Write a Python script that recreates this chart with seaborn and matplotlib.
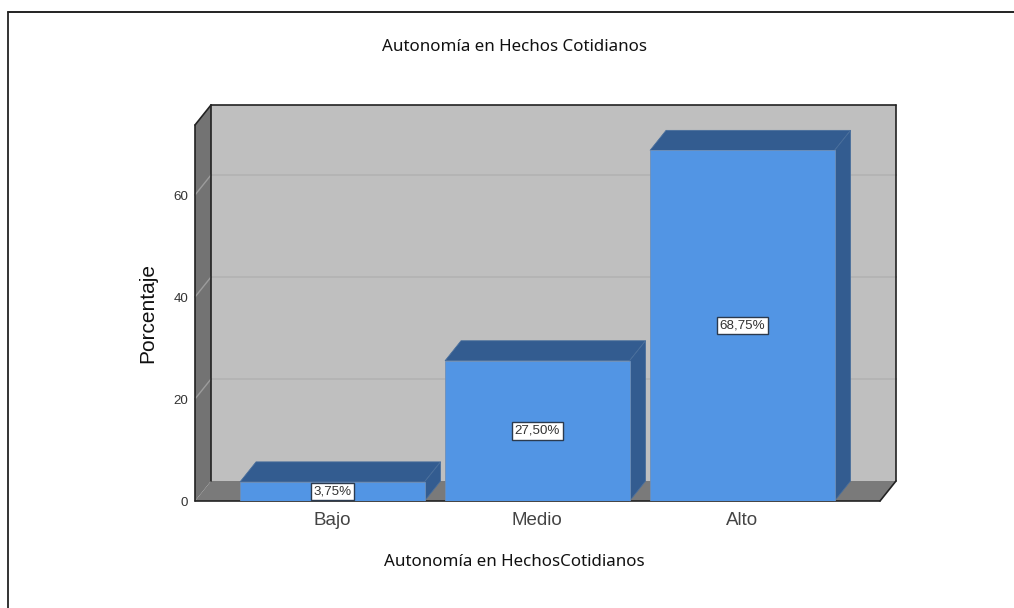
"""
Bar chart with the fake 3D look of the original statistics package output.
"""

import matplotlib
matplotlib.use("Agg")
import matplotlib.pyplot as plt
from matplotlib.lines import Line2D
from matplotlib.patches import Polygon
import pandas as pd
import seaborn as sns

# Data
categories = ["Bajo", "Medio", "Alto"]
percentages = [3.75, 27.50, 68.75]
y_ticks = [0, 20, 40, 60]

TITLE = "Autonomía en Hechos Cotidianos"
X_LABEL = "Autonomía en HechosCotidianos"
Y_LABEL = "Porcentaje"

# Colours
BAR_FRONT = "#5295E4"
BAR_DARK = "#335C90"
BACK_WALL = "#BFBFBF"
SIDE_WALL = "#737373"
FLOOR = "#7A7A7A"
GRID_BACK = "#B2B2B2"
GRID_SIDE = "#9C9C9C"
TEXT_GREY = "#333333"

# Pixel layout of the front plane
W, H = 1014, 608
LEFT, RIGHT, BOTTOM, TOP = 195, 880, 501, 125
DEPTH_X_PX, DEPTH_Y_PX = 16, 20
PX_PER_CAT = 205
PX_PER_UNIT = 5.1


def add_face(ax, points, color, zorder, edge=None, lw=0.0):
    ax.add_patch(Polygon(points, closed=True, facecolor=color, edgecolor=edge or color,
                         linewidth=lw, zorder=zorder, clip_on=False))


def draw_box(ax, dx, dy):
    """Back wall, side wall, floor and their grid lines."""
    x0, x1 = ax.get_xlim()
    y0, y1 = ax.get_ylim()
    add_face(ax, [(x0 + dx, y0 + dy), (x1 + dx, y0 + dy), (x1 + dx, y1 + dy), (x0 + dx, y1 + dy)], BACK_WALL, 0.5)
    add_face(ax, [(x0, y0), (x0 + dx, y0 + dy), (x0 + dx, y1 + dy), (x0, y1)], SIDE_WALL, 0.6)
    add_face(ax, [(x0, y0), (x1, y0), (x1 + dx, y0 + dy), (x0 + dx, y0 + dy)], FLOOR, 0.6)

    for t in y_ticks[1:]:
        ax.plot([x0 + dx, x1 + dx], [t + dy, t + dy], color=GRID_BACK, lw=1.2, zorder=0.7, clip_on=False)
        ax.plot([x0, x0 + dx], [t, t + dy], color=GRID_SIDE, lw=1.0, zorder=0.7, clip_on=False)

    # dark outline of the box
    outline = [
        ([x0, x0], [y0, y1]),
        ([x0, x0 + dx], [y1, y1 + dy]),
        ([x0 + dx, x1 + dx], [y1 + dy, y1 + dy]),
        ([x1 + dx, x1 + dx], [y1 + dy, y0 + dy]),
        ([x1 + dx, x1], [y0 + dy, y0]),
        ([x1, x0], [y0, y0]),
        ([x0 + dx, x0 + dx], [y0 + dy, y1 + dy]),
    ]
    for xs, ys in outline:
        ax.plot(xs, ys, color="#222222", lw=1.2, zorder=0.8, clip_on=False, solid_capstyle="round")


def draw_bar_depth(ax, dx, dy):
    """Top and side faces worked out from the bars seaborn drew."""
    for bar in ax.patches[:len(categories)]:
        x, w, h = bar.get_x(), bar.get_width(), bar.get_height()
        add_face(ax, [(x, h), (x + w, h), (x + w + dx, h + dy), (x + dx, h + dy)], BAR_DARK, 1.5, "#4A6F9C", 0.6)
        add_face(ax, [(x + w, 0), (x + w + dx, dy), (x + w + dx, h + dy), (x + w, h)], BAR_DARK, 1.5, "#4A6F9C", 0.6)
        ax.text(x + w / 2, h / 2, f"{h:.2f}".replace(".", ",") + "%", ha="center", va="center",
                fontsize=9.6, color=TEXT_GREY, zorder=5,
                bbox=dict(boxstyle="square,pad=0.2", facecolor="white", edgecolor="#2B3A4E", linewidth=1.0))


def main():
    sns.set_theme(style="white")
    plt.rcParams["font.family"] = ["Liberation Sans", "DejaVu Sans"]

    df = pd.DataFrame({"Categoria": categories, "Porcentaje": percentages})

    fig = plt.figure(figsize=(W / 100, H / 100), dpi=100, facecolor="white")
    ax = fig.add_axes([LEFT / W, 1 - BOTTOM / H, (RIGHT - LEFT) / W, (BOTTOM - TOP) / H])

    sns.barplot(data=df, x="Categoria", y="Porcentaje", order=categories, color=BAR_FRONT, saturation=1,
                width=184.5 / PX_PER_CAT, edgecolor="#6E8FB8", linewidth=0.6, zorder=2, ax=ax)

    # xlim puts the first bar centre at pixel 332.5
    first_centre = 332.3
    ax.set_xlim((LEFT - first_centre) / PX_PER_CAT, (RIGHT - first_centre) / PX_PER_CAT)
    ax.set_ylim(0, (BOTTOM - TOP) / PX_PER_UNIT)

    dx = DEPTH_X_PX / PX_PER_CAT
    dy = DEPTH_Y_PX / PX_PER_UNIT
    draw_box(ax, dx, dy)
    draw_bar_depth(ax, dx, dy)

    ax.set_xlabel("")
    ax.set_ylabel("")
    ax.set_yticks(y_ticks)
    sns.despine(ax=ax, left=True, bottom=True, top=True, right=True)
    ax.tick_params(axis="y", length=0, pad=5, labelsize=9.6, labelcolor=TEXT_GREY)
    ax.tick_params(axis="x", length=0, pad=8, labelsize=13.5, labelcolor="#444444")
    ax.patch.set_visible(False)

    fig.suptitle(TITLE, x=514.5 / W, y=1 - 47 / H, ha="center", va="center", fontsize=12.2,
                 fontweight="bold", family=["Noto Sans", "DejaVu Sans"], color="#111111")
    fig.supxlabel(X_LABEL, x=514 / W, y=1 - 562 / H, ha="center", va="center", fontsize=12.2,
                  fontweight="bold", family=["Noto Sans", "DejaVu Sans"], color="#111111")
    fig.supylabel(Y_LABEL, x=148 / W, y=1 - 313 / H, ha="center", va="center", fontsize=15, color="#111111")

    # frame of the screenshot: top and left only
    fig.add_artist(Line2D([8 / W, 8 / W], [0, 1 - 12 / H], transform=fig.transFigure, color="#333333", lw=1.4))
    fig.add_artist(Line2D([8 / W, 1], [1 - 12 / H, 1 - 12 / H], transform=fig.transFigure, color="#222222", lw=1.4))

    fig.savefig("out.png", dpi=100)
    plt.close(fig)


if __name__ == "__main__":
    main()
